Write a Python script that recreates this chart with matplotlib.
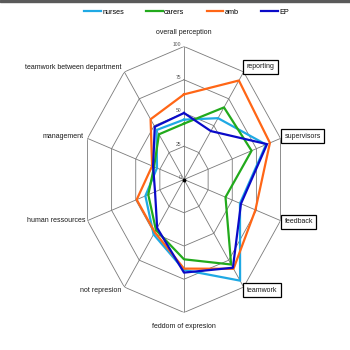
import numpy as np
import matplotlib
matplotlib.use("Agg")
import matplotlib.pyplot as plt
from matplotlib.patches import Rectangle

plt.rcParams['font.family'] = ['Liberation Sans', 'DejaVu Sans']

categories = ["overall perception", "reporting", "supervisors", "feedback", "teamwork",
              "feddom of expresion", "not represion", "human ressources", "management",
              "teamwork between department"]
boxed = ["reporting", "supervisors", "feedback", "teamwork"]

nurses = [45, 57, 85, 58, 94, 68, 51, 40, 28, 46]
carers = [42, 67, 70, 43, 79, 60, 47, 37, 31, 42]
amb = [64, 92, 89, 74, 83, 67, 49, 49, 33, 56]
ep = [50, 45, 86, 59, 82, 70, 45, 30, 32, 49]

levels = [25, 50, 75, 100]
tick_labels = ["0", "25", "50", "75", "100"]

series = [("nurses", nurses, "#1fa9e4"),
          ("carers", carers, "#22aa1c"),
          ("amb", amb, "#ff6616"),
          ("EP", ep, "#0a0ac8")]

n = len(categories)
angles = np.linspace(0, 2 * np.pi, n, endpoint=False)
closed = np.append(angles, angles[0])

fig = plt.figure(figsize=(3.5, 3.5), dpi=100)
# the source picture is squeezed horizontally, so the web is an ellipse
ax = fig.add_axes([82.5 / 350, 37.5 / 350, 203 / 350, 266 / 350], projection='polar')
ax.set_aspect('auto')
ax.set_theta_zero_location('N')
ax.set_theta_direction(-1)
ax.set_ylim(0, 100)
ax.grid(False)
ax.spines['polar'].set_visible(False)
ax.set_xticks([])
ax.set_yticks([])
ax.patch.set_visible(False)

grid_col = "#7a7a7a"
for lv in levels:
    ax.plot(closed, [lv] * (n + 1), color=grid_col, lw=0.6, zorder=1)
for a in angles:
    ax.plot([a, a], [0, 100], color=grid_col, lw=0.6, zorder=1)
ax.plot(0, 0, 'o', color='k', ms=1.8, zorder=2)

for i, t in enumerate(tick_labels):
    ax.annotate(t, xy=(0, i * 25), xytext=(-2.5, 2), textcoords='offset pixels',
                ha='right', va='center', fontsize=3.6, color='#555555')

for name, vals, col in series:
    ax.plot(closed, vals + vals[:1], color=col, lw=1.6, label=name, zorder=3)

# label placement: offsets in pixels from the outer vertex
offsets = [(0, 14.5, 'center'), (3, 5, 'left'), (4, 2, 'left'), (4, -1, 'left'),
           (3, -3, 'left'), (0, -13.5, 'center'), (-2.5, -3, 'right'),
           (-2, 0, 'right'), (-4, 2, 'right'), (-2.5, 4, 'right')]
for a, lab, (dx, dy, ha) in zip(angles, categories, offsets):
    bbox = None
    if lab in boxed:
        bbox = dict(boxstyle='square,pad=0.5', fc='white', ec='black', lw=0.9)
    ax.annotate(lab, xy=(a, 100), xytext=(dx, dy), textcoords='offset pixels',
                ha=ha, va='center', fontsize=5, color='#1a1a1a', bbox=bbox,
                annotation_clip=False, zorder=4)

fig.legend(loc='center', bbox_to_anchor=(0.533, 0.965), ncol=4, frameon=False,
           fontsize=5.2, handlelength=2.3, handletextpad=0.2, columnspacing=3.1)

fig.add_artist(Rectangle((0, 1 - 2 / 350), 1, 2 / 350, transform=fig.transFigure,
                         color='#5a5a5a'))

fig.savefig("out.png", dpi=100, facecolor='white')
